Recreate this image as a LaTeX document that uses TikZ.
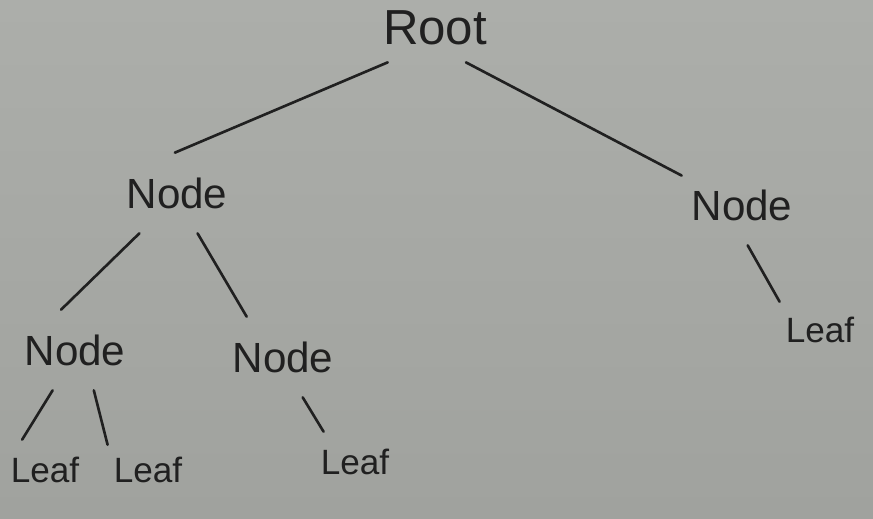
\documentclass[tikz,border=0pt]{standalone}
\usepackage{fontspec}
\setmainfont{Liberation Sans}
\usetikzlibrary{positioning}
\definecolor{board}{RGB}{166,168,164}
\definecolor{boardtop}{RGB}{172,174,170}
\definecolor{boardbot}{RGB}{160,162,158}
\definecolor{ink}{RGB}{32,32,32}

\begin{document}
\begin{tikzpicture}[on grid,
  every node/.style={text=ink},
  rootbox/.style={font=\fontsize{28}{30}\selectfont, minimum width=2.2cm, minimum height=1.36cm},
  nodebox/.style={font=\fontsize{24}{26}\selectfont, minimum width=2.4cm, minimum height=1.6cm},
  leafbox/.style={font=\fontsize{20}{22}\selectfont, minimum width=1.6cm, minimum height=1.2cm},
  edge/.style={draw=ink, line width=1.5pt, line cap=round}]
\shade[top color=boardtop, bottom color=boardbot] (0,0) rectangle (17.46,-10.36);
\useasboundingbox (0,0) rectangle (17.46,-10.36);
\node[rootbox] (root) at (8.70,-0.56) {Root};
\node[nodebox, below left=3.30cm and 5.16cm of root] (n1) {Node};
\node[nodebox, below right=3.54cm and 6.14cm of root] (n2) {Node};
\node[nodebox, below left=3.14cm and 2.04cm of n1] (n11) {Node};
\node[nodebox, below right=3.28cm and 2.12cm of n1] (n12) {Node};
\node[leafbox, below left=2.40cm and 0.60cm of n11] (l1) {Leaf};
\node[leafbox, below right=2.40cm and 1.46cm of n11] (l2) {Leaf};
\node[leafbox, below right=2.10cm and 1.44cm of n12] (l3) {Leaf};
\node[leafbox, below right=2.50cm and 1.56cm of n2] (l4) {Leaf};
% edges
\draw[edge] (root.216) -- (n1.93);
\draw[edge] (root.-48) -- (n2.154);
\draw[edge] (n1.227) -- (n11.109);
\draw[edge] (n1.-63) -- (n12.132);
\draw[edge] (n11.-119) -- (l1.127);
\draw[edge] (n11.-65) -- (l2.148);
\draw[edge] (n12.-64) -- (l3.136);
\draw[edge] (n2.-82) -- (l4.145);
\end{tikzpicture}
\end{document}
